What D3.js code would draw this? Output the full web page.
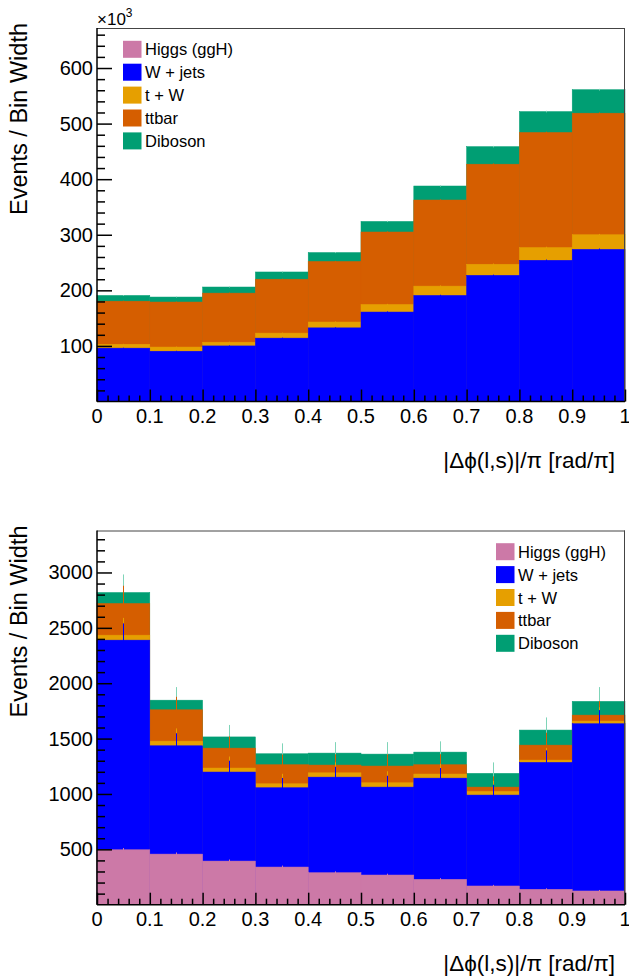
<!DOCTYPE html>
<html>
<head>
<meta charset="utf-8">
<script src="https://cdn.jsdelivr.net/npm/d3@7"></script>
<style>
  html, body { margin: 0; padding: 0; background: #fff; }
  svg { display: block; font-family: "Liberation Sans", Arial, Helvetica, sans-serif; }
</style>
</head>
<body>
<svg id="chart" width="629" height="979"></svg>
<script>
// ---------- data ----------
const binEdges = [0, 0.1, 0.2, 0.3, 0.4, 0.5, 0.6, 0.7, 0.8, 0.9, 1.0];
const xTickLabels = ["0", "0.1", "0.2", "0.3", "0.4", "0.5", "0.6", "0.7", "0.8", "0.9", "1"];
const seriesNames = ["Higgs (ggH)", "W + jets", "t + W", "ttbar", "Diboson"];
const seriesColors = ["#CC79A7", "#0000FF", "#E69F00", "#D55E00", "#009E73"];

// Top panel (units of 10^3 events / bin width)
const topHiggs   = [0.50, 0.46, 0.39, 0.34, 0.29, 0.27, 0.23, 0.17, 0.14, 0.12];
const topWjets   = [95.5, 90.0, 99.6, 113.7, 132.2, 160.7, 190.6, 226.8, 253.9, 273.6];
const topTW      = [7.0, 7.5, 6.7, 9.0, 10.5, 13.6, 16.8, 20.0, 23.0, 26.3];
const topTtbar   = [77.5, 81.0, 88.3, 97.0, 109.0, 130.4, 154.9, 180.0, 207.0, 218.7];
const topDiboson = [10.3, 9.0, 11.0, 13.0, 16.0, 19.0, 25.2, 31.6, 37.6, 42.3];
const topErr     = [0.8, 0.8, 0.9, 0.9, 1.0, 1.1, 1.2, 1.3, 1.4, 1.5];
const topYTicks  = [100, 200, 300, 400, 500, 600];

// Bottom panel (events / bin width)
const botHiggs   = [496, 457, 394, 340, 289, 268, 229, 169, 139, 124];
const botWjets   = [1893, 978, 804, 716, 863, 794, 914, 821, 1146, 1510];
const botTW      = [45, 42, 36, 36, 39, 39, 37, 33, 21, 24];
const botTtbar   = [286, 283, 180, 172, 70, 151, 84, 39, 135, 54];
const botDiboson = [99, 87, 101, 99, 108, 108, 114, 124, 136, 124];
// statistical error of each stacked level
const botErrHiggs   = [16, 15, 14, 13, 12, 12, 11, 10, 9, 9];
const botErrWjets   = [151, 113, 102, 88, 93, 102, 91, 93, 108, 123];
const botErrTW      = [156, 115, 104, 90, 95, 104, 93, 95, 110, 125];
const botErrTtbar   = [160, 117, 106, 92, 97, 106, 95, 97, 112, 127];
const botErrDiboson = [163, 118, 108, 94, 99, 108, 97, 99, 114, 129];
const botYTicks  = [500, 1000, 1500, 2000, 2500, 3000];

const svg = d3.select("#chart");

function drawPanel(opt) {
  const g = svg.append("g");
  const x = d3.scaleLinear().domain([0, 1]).range([opt.left, opt.right]);
  const y = d3.scaleLinear().domain([0, opt.yMax]).range([opt.bottom, opt.top]);

  const layers = opt.layers; // bottom -> top
  const nb = binEdges.length - 1;
  // cumulative tops
  const cum = [];
  layers.forEach((L, k) => {
    cum.push(L.values.map((v, i) => v + (k > 0 ? cum[k - 1][i] : 0)));
  });

  // draw from top-most layer to the bottom one (each covers the previous)
  for (let k = layers.length - 1; k >= 0; k--) {
    const color = seriesColors[k];
    const data = d3.range(nb).map(i => ({ i, v: cum[k][i], e: layers[k].err[i] }));
    g.append("g").selectAll("rect").data(data).join("rect")
      .attr("x", d => x(binEdges[d.i]))
      .attr("width", d => x(binEdges[d.i + 1]) - x(binEdges[d.i]))
      .attr("y", d => y(d.v))
      .attr("height", d => y(0) - y(d.v))
      .attr("fill", color)
      .attr("stroke", color)
      .attr("stroke-width", 0.5);
    g.append("g").selectAll("line").data(data).join("line")
      .attr("x1", d => Math.round(x((binEdges[d.i] + binEdges[d.i + 1]) / 2)) + 0.5)
      .attr("x2", d => Math.round(x((binEdges[d.i] + binEdges[d.i + 1]) / 2)) + 0.5)
      .attr("y1", d => y(d.v - d.e))
      .attr("y2", d => y(d.v + d.e))
      .attr("stroke", k === 4 ? "#7fd4b8" : color)
      .attr("stroke-width", 1);
  }

  // frame (top/right)
  g.append("line").attr("x1", opt.left).attr("x2", opt.right).attr("y1", opt.top + 0.5).attr("y2", opt.top + 0.5)
    .attr("stroke", "#444").attr("stroke-width", 1);
  g.append("line").attr("x1", opt.right - 0.5).attr("x2", opt.right - 0.5).attr("y1", opt.top).attr("y2", opt.bottom)
    .attr("stroke", "#444").attr("stroke-width", 1);

  // x axis
  const xAxisMajor = d3.axisTop(x).tickValues(binEdges).tickSize(12).tickFormat("");
  const xMinor = d3.range(0, 51).map(i => i / 50).filter(v => Math.abs(v * 10 - Math.round(v * 10)) > 1e-6);
  const xAxisMinor = d3.axisTop(x).tickValues(xMinor).tickSize(6).tickFormat("");
  [xAxisMajor, xAxisMinor].forEach(ax => {
    const a = g.append("g").attr("transform", `translate(0,${opt.bottom})`).call(ax);
    a.select(".domain").remove();
    a.selectAll("line").attr("stroke", "#000").attr("stroke-width", 1.5);
  });
  g.append("line").attr("x1", opt.left).attr("x2", opt.right).attr("y1", opt.bottom).attr("y2", opt.bottom)
    .attr("stroke", "#000").attr("stroke-width", 1.5);
  g.append("g").selectAll("text").data(binEdges).join("text")
    .attr("x", (d, i) => x(d) + (i === 0 ? 0 : 0))
    .attr("y", opt.bottom + 21)
    .attr("text-anchor", "middle")
    .attr("font-size", 20)
    .attr("fill", "#000")
    .text((d, i) => xTickLabels[i]);

  // y axis
  const yAxisMajor = d3.axisRight(y).tickValues(opt.yTicks).tickSize(15).tickFormat("");
  const yMinor = d3.range(0, Math.floor(opt.yMax / opt.yMinorStep) + 1).map(i => i * opt.yMinorStep)
    .filter(v => v % opt.yMajorStep !== 0 && v <= opt.yMax);
  const yAxisMinor = d3.axisRight(y).tickValues(yMinor).tickSize(8).tickFormat("");
  [yAxisMajor, yAxisMinor].forEach(ax => {
    const a = g.append("g").attr("transform", `translate(${opt.left},0)`).call(ax);
    a.select(".domain").remove();
    a.selectAll("line").attr("stroke", "#000").attr("stroke-width", 1.5);
  });
  g.append("line").attr("x1", opt.left).attr("x2", opt.left).attr("y1", opt.top).attr("y2", opt.bottom)
    .attr("stroke", "#000").attr("stroke-width", 1.5);
  g.append("g").selectAll("text").data(opt.yTicks).join("text")
    .attr("x", opt.left - 4)
    .attr("y", d => y(d) + 7)
    .attr("text-anchor", "end")
    .attr("font-size", 20)
    .attr("fill", "#000")
    .text(d => d);

  // axis titles
  g.append("text")
    .attr("transform", `translate(27,${opt.top - 5}) rotate(-90)`)
    .attr("text-anchor", "end")
    .attr("font-size", 23.5)
    .attr("fill", "#000")
    .text("Events / Bin Width");
  g.append("text")
    .attr("x", 615)
    .attr("y", opt.bottom + 66)
    .attr("text-anchor", "end")
    .attr("font-size", 22.5)
    .attr("fill", "#000")
    .text("|Δϕ(l,s)|/π [rad/π]");

  // legend
  const lg = g.append("g");
  seriesNames.forEach((name, k) => {
    const cy = opt.legendY + k * 22.9;
    lg.append("rect").attr("x", opt.legendX).attr("y", cy - 8.5).attr("width", 18.5).attr("height", 17)
      .attr("fill", seriesColors[k]);
    lg.append("text").attr("x", opt.legendX + 22).attr("y", cy + 6)
      .attr("font-size", 16.5).attr("fill", "#000").text(name);
  });

  if (opt.exponent) {
    const t = g.append("text").attr("x", opt.left).attr("y", opt.top - 3).attr("font-size", 17).attr("fill", "#000");
    t.append("tspan").text("×10");
    t.append("tspan").attr("font-size", 12).attr("dy", -8).text(opt.exponent);
  }
}

drawPanel({
  left: 97, right: 625, top: 28, bottom: 401.5, yMax: 672,
  yTicks: topYTicks, yMajorStep: 100, yMinorStep: 20,
  layers: [
    { values: topHiggs, err: topErr.map(e => e * 0.1) },
    { values: topWjets, err: topErr },
    { values: topTW, err: topErr },
    { values: topTtbar, err: topErr },
    { values: topDiboson, err: topErr }
  ],
  legendX: 123, legendY: 49.3, exponent: "3"
});

drawPanel({
  left: 97, right: 625, top: 530.5, bottom: 904.7, yMax: 3379,
  yTicks: botYTicks, yMajorStep: 500, yMinorStep: 100,
  layers: [
    { values: botHiggs, err: botErrHiggs },
    { values: botWjets, err: botErrWjets },
    { values: botTW, err: botErrTW },
    { values: botTtbar, err: botErrTtbar },
    { values: botDiboson, err: botErrDiboson }
  ],
  legendX: 496, legendY: 551.7
});
</script>
</body>
</html>
